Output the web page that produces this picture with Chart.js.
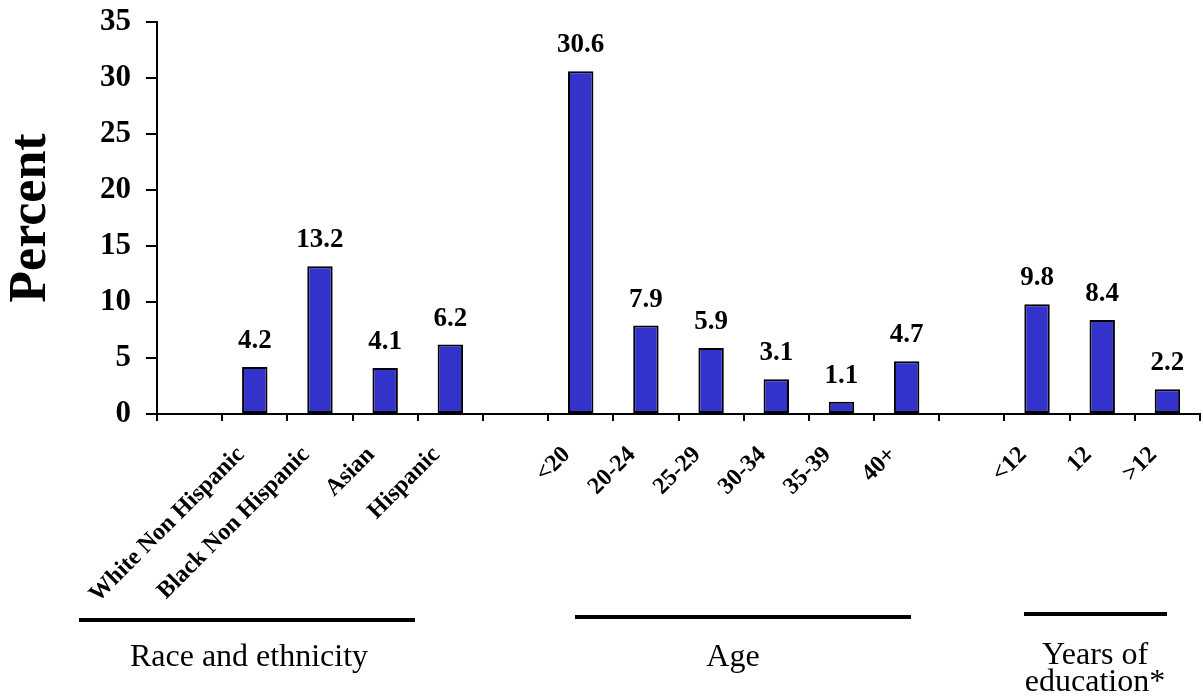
<!DOCTYPE html>
<html><head><meta charset="utf-8">
<script src="https://cdn.jsdelivr.net/npm/chart.js@4/dist/chart.umd.min.js"></script>
<style>
body{margin:0;background:#fff;}
#wrap{position:relative;width:1203px;height:696px;overflow:hidden;}
canvas{position:absolute;left:0;top:0;}
.grp{position:absolute;font-family:"Liberation Serif","Times New Roman",serif;font-size:32px;color:#000;text-align:center;line-height:27px;white-space:nowrap;}
.rule{position:absolute;height:4px;background:#000;}
</style></head><body>
<div id="wrap"><canvas id="c" width="1203" height="696"></canvas>
<div class="rule" style="left:79px;top:618px;width:336px"></div>
<div class="rule" style="left:575px;top:615px;width:336px"></div>
<div class="rule" style="left:1024px;top:612px;width:143px"></div>
<div class="grp" id="g0" style="left:99px;top:642px;width:300px"></div>
<div class="grp" id="g1" style="left:583px;top:642px;width:300px"></div>
<div class="grp" id="g2" style="left:995px;top:640px;width:200px"></div>
</div>
<script>
const categories = ['', 'White Non Hispanic', 'Black Non Hispanic', 'Asian', 'Hispanic', '', '<20', '20-24', '25-29', '30-34', '35-39', '40+', '', '<12', '12', '>12'];
const values = [null, 4.2, 13.2, 4.1, 6.2, null, 30.6, 7.9, 5.9, 3.1, 1.1, 4.7, null, 9.8, 8.4, 2.2];
const yTicks = [0, 5, 10, 15, 20, 25, 30, 35];
const groupNames = ['Race and ethnicity', 'Age', 'Years of<br>education*'];
const yTitle = 'Percent';

groupNames.forEach((g, i) => { document.getElementById('g' + i).innerHTML = g; });

const serif = '"Liberation Serif", "Times New Roman", serif';

const valueLabels = {
  id: 'valueLabels',
  afterDatasetsDraw(chart) {
    const ctx = chart.ctx;
    const meta = chart.getDatasetMeta(0);
    ctx.save();
    ctx.font = 'bold 27px ' + serif;
    ctx.fillStyle = '#000';
    ctx.textAlign = 'center';
    ctx.textBaseline = 'alphabetic';
    meta.data.forEach((el, i) => {
      const v = values[i];
      if (v === null || v === undefined) return;
      ctx.fillText(v.toFixed(1), el.x, el.y - 19);
    });
    ctx.restore();
  }
};

new Chart(document.getElementById('c'), {
  type: 'bar',
  data: {
    labels: categories,
    datasets: [{
      data: values,
      backgroundColor: '#3333cc',
      borderColor: '#000',
      borderWidth: 2,
      borderSkipped: false,
      categoryPercentage: 1,
      barPercentage: 0.39
    }]
  },
  options: {
    responsive: false,
    animation: false,
    devicePixelRatio: 1,
    layout: { padding: { top: 22, right: 3, left: 0, bottom: 0 } },
    plugins: { legend: { display: false }, tooltip: { enabled: false } },
    scales: {
      x: {
        afterFit(s) { s.height = 282; s.paddingLeft = 0; s.paddingRight = 0; },
        grid: { drawOnChartArea: false, color: '#000', tickLength: 7, lineWidth: 2, offset: true },
        border: { color: '#000', width: 2 },
        ticks: {
          autoSkip: false, minRotation: 45, maxRotation: 45,
          color: '#000', font: { family: serif, size: 24, weight: 'bold' },
          labelOffset: -14, padding: 20
        }
      },
      y: {
        min: 0, max: 35,
        afterFit(s) { s.width = 157; s.paddingTop = 0; s.paddingBottom = 0; },
        afterBuildTicks(s) { s.ticks = yTicks.map(v => ({ value: v })); },
        grid: { drawOnChartArea: false, color: '#000', tickLength: 11, lineWidth: 2 },
        border: { color: '#000', width: 2 },
        ticks: { color: '#000', padding: 15, font: { family: serif, size: 31, weight: 'bold' } },
        title: { display: true, text: yTitle, color: '#000', padding: { top: 0, bottom: 0 }, font: { family: serif, size: 52, weight: 'bold' } }
      }
    }
  },
  plugins: [valueLabels]
});
</script>
</body></html>
